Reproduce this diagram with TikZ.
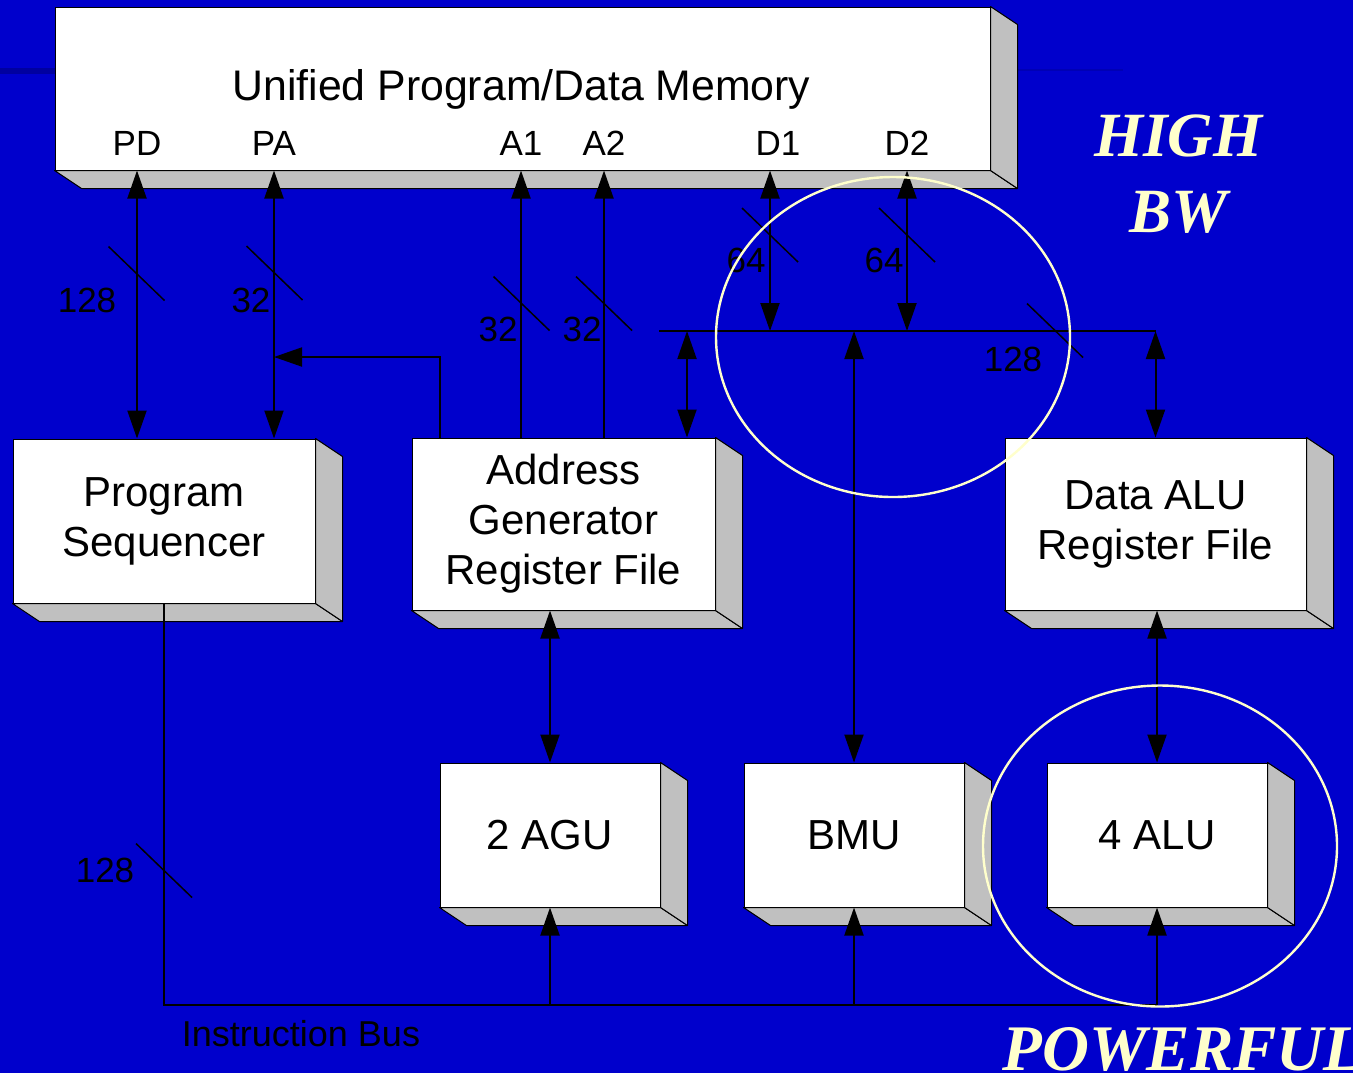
\documentclass[tikz,border=0pt]{standalone}
\usepackage{fontspec}
\setmainfont{Liberation Sans}
\newfontfamily\hifont{Liberation Serif}
\usetikzlibrary{arrows.meta,positioning}
\definecolor{slide}{HTML}{0000CC}
\definecolor{rule}{HTML}{0000A0}
\definecolor{pale}{HTML}{FFFFCC}
\definecolor{side}{HTML}{C0C0C0}
\newcommand\slab[1]{%
  \filldraw[fill=side, line width=0.5pt, line join=round] (#1.south west) -- ++(27,18) -- ([shift={(27,18)}]#1.south east) -- (#1.south east) -- cycle;
  \filldraw[fill=side, line width=0.5pt, line join=round] (#1.north east) -- ++(27,18) -- ([shift={(27,18)}]#1.south east) -- (#1.south east) -- cycle;}
\newcommand\tick[1]{\draw[line width=0.75pt] #1 ++(-28,-27) -- ++(56,54);}

\begin{document}
\begin{tikzpicture}[x=0.5pt, y=-0.5pt,
  blk/.style = {draw, fill=white, line width=0.5pt, inner sep=0, align=center, font=\fontsize{21}{25}\selectfont},
  unit/.style = {blk, minimum width=110pt, minimum height=72pt},
  lbl/.style = {inner sep=0, font=\fontsize{17.5}{20}\selectfont},
  wire/.style = {line width=1pt},
  fwd/.style = {wire, -{Triangle[length=14pt,width=9.5pt]}},
  dbl/.style = {wire, {Triangle[length=14pt,width=9.5pt]}-{Triangle[length=14pt,width=9.5pt]}},
  ring/.style = {draw=pale, line width=1.2pt},
  big/.style = {text=pale, inner sep=0, font=\hifont\bfseries\itshape\fontsize{31.5}{38}\selectfont}]
	\useasboundingbox (0,0) rectangle (1353,1073);
	\clip (0,0) rectangle (1353,1073);
	\fill[slide] (0,0) rectangle (1353,1073);
	\fill[rule] (0,68) rectangle (55,74);
	\draw[slide!88!black, line width=1pt] (1017,70) -- (1123,70);

	\node[blk, minimum width=467.5pt, minimum height=81.5pt] (mem) at (522.5,88.5) {};
	\node[inner sep=0, font=\fontsize{21.4}{25}\selectfont] (title) at (521.5,89.5) {Unified Program/Data Memory};
	\node[blk, minimum width=151pt, minimum height=82pt] (seq) at (164,521) {Program\\Sequencer};
	\node[blk, minimum width=151.5pt, minimum height=86pt] (agrf) at (563.5,524) {Address\\Generator\\Register File};
	\node[blk, minimum width=150.5pt, minimum height=86pt] (dalu) at (1155.5,524) {Data ALU\\Register File};
	\node[unit] (agu) at (550,835) {2 AGU};
	\node[unit] (bmu) [right=41.5pt of agu] {BMU};
	\node[unit] (alu) [right=41pt of bmu] {4 ALU};
	\slab{mem} \slab{seq} \slab{agrf} \slab{dalu} \slab{agu} \slab{bmu} \slab{alu}

	\node[lbl] (PD) at (137,143) {PD};
	\node[lbl] (PA) at (274,143) {PA};
	\node[lbl] (A1) at (521,143) {A1};
	\node[lbl] (A2) at (604,143) {A2};
	\node[lbl] (D1) at (778,143) {D1};
	\node[lbl] (D2) at (907,143) {D2};

	\coordinate (busL) at (659,331);
	\coordinate (d1) at (770,331);
	\coordinate (d2) at (907,331);
	\coordinate (bagrf) at (687,331);
	\coordinate (fb) at (440,357);
	\coordinate (ib) at (164,1005);

	\draw[dbl] (PD |- mem.south) -- (PD |- seq.north);
	\draw[dbl] (PA |- mem.south) -- (PA |- seq.north);
	\draw[fwd] (fb |- agrf.north) -- (fb) -- (fb -| PA);
	\draw[fwd] (A1 |- agrf.north) -- (A1 |- mem.south);
	\draw[fwd] (A2 |- agrf.north) -- (A2 |- mem.south);
	\draw[dbl] (d1 |- mem.south) -- (d1);
	\draw[dbl] (d2 |- mem.south) -- (d2);
	\draw[wire] (busL) -- (busL -| dalu.north);
	\draw[dbl] (busL -| dalu.north) -- (dalu.north);
	\draw[dbl] (bagrf) -- (bagrf |- agrf.north);
	\draw[dbl] (busL -| bmu.north) -- (bmu.north);
	\draw[dbl] (agu |- agrf.south) -- (agu.north);
	\draw[dbl] (alu |- dalu.south) -- (alu.north);
	\draw[wire] (seq.south) -- (ib) -- (ib -| alu.south);
	\draw[fwd] (ib -| agu.south) -- (agu.south);
	\draw[fwd] (ib -| bmu.south) -- (bmu.south);
	\draw[fwd] (ib -| alu.south) -- (alu.south);

	\tick{(136.5,273.5)} \tick{(274.5,273)} \tick{(521.5,303.5)} \tick{(604,303.5)}
	\tick{(770,235)} \tick{(907,235)} \tick{(1055,330.5)} \tick{(164,870.5)}
	\node[lbl] (w1) at (87,300) {128};
	\node[lbl] (w2) at (251,300) {32};
	\node[lbl] (w3) at (498,329) {32};
	\node[lbl] (w4) at (582,329) {32};
	\node[lbl] (w5) at (746,260) {64};
	\node[lbl] (w6) at (884,260) {64};
	\node[lbl] (w7) at (1013,359) {128};
	\node[lbl] (w8) at (105,870) {128};
	\node[inner sep=0, font=\fontsize{18}{21}\selectfont] (ibus) at (301,1034) {Instruction Bus};

	\draw[ring] (893,337) ellipse [x radius=88.5pt, y radius=80pt];
	\draw[ring] (1160,846) ellipse [x radius=88.5pt, y radius=80.25pt];
	\node[big] (high) at (1178,136) {HIGH};
	\node[big] (bw) at (1178,212) {BW};
	\node[big, font=\hifont\bfseries\itshape\fontsize{32.5}{39}\selectfont, anchor=base west] (pow) at (1002,1070) {POWERFUL};
\end{tikzpicture}
\end{document}
